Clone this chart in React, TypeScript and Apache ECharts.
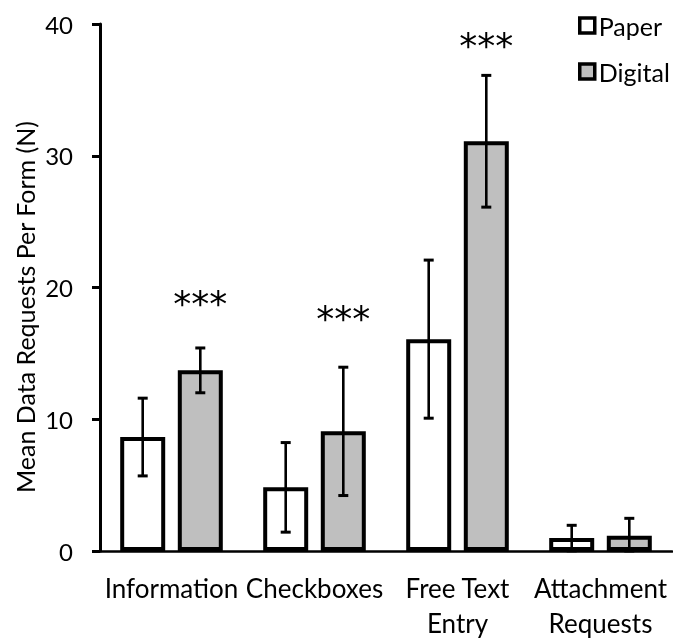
import React, { useEffect, useRef } from "react";
import * as echarts from "echarts";

const categories = ["Information", "Checkboxes", "Free Text\nEntry", "Attachment\nRequests"];
const paperMean = [8.65, 4.83, 16.08, 0.98];
const paperErr = [2.95, 3.4, 6.0, 0.97];
const digitalMean = [13.71, 9.08, 31.1, 1.15];
const digitalErr = [1.7, 4.87, 5.0, 1.33];
const sigLevel = [19.3, 18.2, 38.9, null];
const sigText = ["***", "***", "***", ""];
const yTicks = [0, 10, 20, 30, 40];

const FONT = "Lato";
const BAR_W = 45;
const BAR_GAP = 0.28;

export default function App() {
  const ref = useRef<HTMLDivElement>(null);
  useEffect(() => {
    if (!ref.current) return;
    const chart = echarts.init(ref.current, null, { renderer: "svg" });
    const offset = (BAR_W * (1 + BAR_GAP)) / 2;

    const errRenderer = (sign: number) => (params: any, api: any) => {
      const ci = api.value(0);
      const lo = api.value(1);
      const hi = api.value(2);
      const pHi = api.coord([ci, hi]);
      const pLo = api.coord([ci, lo]);
      const x = pHi[0] + sign * offset;
      const cap = 5;
      const st = { stroke: "#000", lineWidth: 2.6 };
      return {
        type: "group",
        children: [
          { type: "line", shape: { x1: x, y1: pHi[1], x2: x, y2: pLo[1] }, style: st },
          { type: "line", shape: { x1: x - cap, y1: pHi[1], x2: x + cap, y2: pHi[1] }, style: { ...st, lineWidth: 3 } },
          { type: "line", shape: { x1: x - cap, y1: pLo[1], x2: x + cap, y2: pLo[1] }, style: { ...st, lineWidth: 3 } },
        ],
      };
    };

    const sigRenderer = (params: any, api: any) => {
      const ci = api.value(0);
      const v = api.value(1);
      const p = api.coord([ci, v]);
      return {
        type: "text",
        x: p[0] + offset,
        y: p[1] + 7,
        style: {
          text: sigText[params.dataIndex],
          font: `36px "DejaVu Sans"`,
          fill: "#000",
          align: "center",
          verticalAlign: "middle",
        },
      };
    };

    chart.setOption({
      animation: false,
      grid: { left: 100, right: 1, top: 24, bottom: 83, containLabel: false },
      legend: {
        orient: "vertical",
        left: 573,
        top: 8,
        itemWidth: 15,
        itemHeight: 15,
        itemGap: 21,
        icon: "rect",
        itemStyle: { borderColor: "#000", borderWidth: 3.5 },
        textStyle: { fontFamily: FONT, fontSize: 25, color: "#000", lineHeight: 24, padding: [0, 0, 0, -1] },
        data: ["Paper", "Digital"],
      },
      graphic: [
        {
          type: "text",
          x: 25,
          y: 307,
          rotation: Math.PI / 2,
          style: {
            text: "Mean Data Requests Per Form (N)",
            font: `25px ${FONT}`,
            fill: "#000",
            align: "center",
            verticalAlign: "middle",
          },
        },
      ],
      xAxis: {
        type: "category",
        data: categories,
        axisLine: { lineStyle: { color: "#000", width: 2.6 } },
        axisTick: { show: false },
        axisLabel: {
          interval: 0,
          color: "#000",
          fontFamily: FONT,
          fontSize: 26,
          lineHeight: 35,
          margin: 19,
        },
      },
      yAxis: {
        type: "value",
        min: yTicks[0],
        max: yTicks[yTicks.length - 1],
        interval: 10,
        splitLine: { show: false },
        axisLine: { show: true, lineStyle: { color: "#000", width: 3 } },
        axisTick: { show: true, length: 8, lineStyle: { color: "#000", width: 3 } },
        axisLabel: { color: "#000", fontFamily: FONT, fontSize: 24, margin: 27 },
      },
      series: [
        {
          name: "Paper",
          type: "bar",
          data: paperMean,
          barWidth: BAR_W,
          barGap: `${BAR_GAP * 100}%`,
          itemStyle: { color: "#ffffff", borderColor: "#000", borderWidth: 4 },
        },
        {
          name: "Digital",
          type: "bar",
          data: digitalMean,
          barWidth: BAR_W,
          barGap: `${BAR_GAP * 100}%`,
          itemStyle: { color: "#bfbfbf", borderColor: "#000", borderWidth: 4 },
        },
        {
          type: "custom",
          z: 5,
          renderItem: errRenderer(-1),
          encode: { x: 0, y: [1, 2] },
          data: paperMean.map((m, i) => [i, Math.max(0, m - paperErr[i]), m + paperErr[i]]),
        },
        {
          type: "custom",
          z: 5,
          renderItem: errRenderer(1),
          encode: { x: 0, y: [1, 2] },
          data: digitalMean.map((m, i) => [i, Math.max(0, m - digitalErr[i]), m + digitalErr[i]]),
        },
        {
          type: "custom",
          z: 5,
          renderItem: sigRenderer,
          encode: { x: 0, y: 1 },
          data: sigLevel.map((v, i) => [i, v == null ? 0 : v]),
        },
      ],
    });
    return () => chart.dispose();
  }, []);
  return <div ref={ref} style={{ position: "fixed", left: 0, top: 0, width: 673, height: 640 }} />;
}
